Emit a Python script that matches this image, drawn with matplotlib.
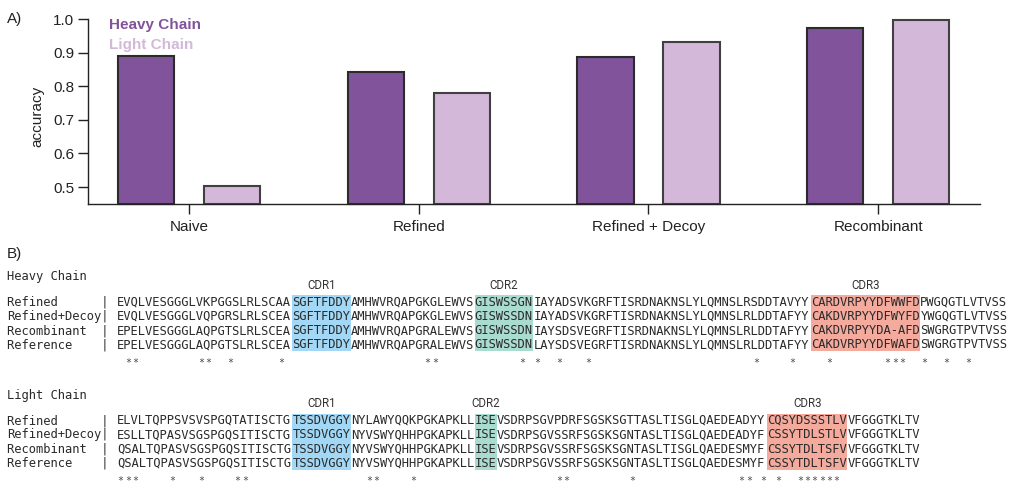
import matplotlib
matplotlib.use("Agg")
import matplotlib.pyplot as plt
from matplotlib.patches import Rectangle

# ---------------- Panel A data ----------------
categories = ["Naive", "Refined", "Refined + Decoy", "Recombinant"]
series_names = ["Heavy Chain", "Light Chain"]
heavy_acc = [0.889, 0.843, 0.888, 0.973]
light_acc = [0.503, 0.779, 0.932, 0.996]
y_ticks = [0.5, 0.6, 0.7, 0.8, 0.9, 1.0]

# ---------------- Panel B data ----------------
row_labels = ["Refined", "Refined+Decoy", "Recombinant", "Reference"]
heavy_seqs = [
    "EVQLVESGGGLVKPGGSLRLSCAASGFTFDDYAMHWVRQAPGKGLEWVSGISWSSGNIAYADSVKGRFTISRDNAKNSLYLQMNSLRSDDTAVYYCARDVRPYYDFWWFDPWGQGTLVTVSS",
    "EVQLVESGGGLVQPGRSLRLSCEASGFTFDDYAMHWVRQAPGKGLEWVSGISWSSDNIAYADSVKGRFTISRDNAKNSLYLQMNSLRLDDTAFYYCAKDVRPYYDFWYFDYWGQGTLVTVSS",
    "EPELVESGGGLAQPGTSLRLSCEASGFTFDDYAMHWVRQAPGRALEWVSGISWSSDNIAYSDSVEGRFTISRDNAKNSLYLQMNSLRLDDTAFYYCAKDVRPYYDA-AFDSWGRGTPVTVSS",
    "EPELVESGGGLAQPGTSLRLSCEASGFTFDDYAMHWVRQAPGRALEWVSGISWSSDNLAYSDSVEGRFTISRDNAKNSLYLQMNSLRLDDTAFYYCAKDVRPYYDFWAFDSWGRGTPVTVSS",
]
light_seqs = [
    "ELVLTQPPSVSVSPGQTATISCTGTSSDVGGYNYLAWYQQKPGKAPKLLISEVSDRPSGVPDRFSGSKSGTTASLTISGLQAEDEADYYCQSYDSSSTLVVFGGGTKLTV",
    "ESLLTQPASVSGSPGQSITISCTGTSSDVGGYNYVSWYQHHPGKAPKLLISEVSDRPSGVSSRFSGSKSGNTASLTISGLQAEDEADYFCSSYTDLSTLVVFGGGTKLTV",
    "QSALTQPASVSGSPGQSITISCTGTSSDVGGYNYVSWYQHHPGKAPKLLISEVSDRPSGVSSRFSGSKSGNTASLTISGLQAEDESMYFCSSYTDLTSFVVFGGGTKLTV",
    "QSALTQPASVSGSPGQSITISCTGTSSDVGGYNYVSWYQHHPGKAPKLLISEVSDRPSGVSSRFSGSKSGNTASLTISGLQAEDESMYFCSSYTDLTSFVVFGGGTKLTV",
]
cdr_names = ["CDR1", "CDR2", "CDR3"]
heavy_cdr_spans = [(25, 32), (50, 57), (96, 110)]
light_cdr_spans = [(25, 32), (50, 52), (90, 100)]
heavy_star_cols = [2, 3, 12, 13, 16, 23, 43, 44, 56, 58, 61, 65, 88, 93, 98,
                   106, 107, 108, 111, 114, 117]
light_star_cols = [1, 2, 3, 8, 12, 17, 18, 35, 36, 41, 61, 62, 71, 86, 87, 89,
                   91, 94, 95, 96, 97, 98, 99]

# ---------------- style ----------------
plt.rcParams['font.family'] = ['Liberation Sans', 'DejaVu Sans']
heavy_color = "#80539a"
light_color = "#d4b8d9"
cdr_colors = ["#a2d8f5", "#a9dbd0", "#f4aa9c"]
text_dark = "#222222"
seq_color = "#2a2a2a"

W, H = 1011, 486
fig = plt.figure(figsize=(W / 100, H / 100), dpi=100)

# Full-figure overlay axes in pixel coordinates (panel B + panel letters)
axb = fig.add_axes([0, 0, 1, 1])
axb.set_xlim(0, W)
axb.set_ylim(H, 0)
axb.axis("off")

# ---------------- Panel A ----------------
ax_left, ax_right, ax_top, ax_bot = 88, 980, 19, 203.8
ax = fig.add_axes([ax_left / W, 1 - ax_bot / H, (ax_right - ax_left) / W, (ax_bot - ax_top) / H])
y_lo, y_hi = 0.45, 1.0
x = list(range(len(categories)))
off, bw = 0.1875, 0.245
ax.bar([i - off for i in x], [v - y_lo for v in heavy_acc], bottom=y_lo, width=bw,
       color=heavy_color, edgecolor="#2b2b2b", linewidth=1.5, clip_on=False, zorder=3)
ax.bar([i + off for i in x], [v - y_lo for v in light_acc], bottom=y_lo, width=bw,
       color=light_color, edgecolor="#404040", linewidth=1.5, clip_on=False, zorder=3)
ax.set_ylim(y_lo, y_hi)
ax.set_xlim(-0.44, -0.44 + (ax_right - ax_left) / 229.7)
ax.set_yticks(y_ticks)
ax.set_yticklabels([f"{v:.1f}" for v in y_ticks])
ax.set_xticks(x)
ax.set_xticklabels(categories)
ax.spines["top"].set_visible(False)
ax.spines["right"].set_visible(False)
for s in ("left", "bottom"):
    ax.spines[s].set_linewidth(1.0)
    ax.spines[s].set_color(text_dark)
    ax.spines[s].set_zorder(4)
ax.tick_params(axis="both", length=7.5, width=1.0, colors=text_dark, labelsize=11)
ax.tick_params(axis="y", pad=2.5)
ax.tick_params(axis="x", pad=4)
ax.set_ylabel("accuracy", fontsize=11, color=text_dark)
ax.yaxis.set_label_coords(-0.049, 0.475)
ax.text(0.0235, 0.965, series_names[0], transform=ax.transAxes, fontsize=11,
        fontweight="bold", color=heavy_color, va="center", ha="left")
ax.text(0.0235, 0.86, series_names[1], transform=ax.transAxes, fontsize=11,
        fontweight="bold", color=light_color, va="center", ha="left")

axb.text(7, 19, "A)", fontsize=11, color=text_dark, va="center", ha="left")
axb.text(7, 254, "B)", fontsize=11, color=text_dark, va="center", ha="left")

# ---------------- Panel B ----------------
mono = "DejaVu Sans Mono"
mono_pt = 8.73          # renders with ~7.25 px advance
char_w = 7.303          # column pitch of the reference alignment
seq_col0 = 15           # sequence starts after "label(13)| "
seq_x = 117.0
x0 = seq_x - seq_col0 * char_w
row_gap = 14.3
star_pt = 7.2


def draw_block(title, title_y, cdr_y, top_y, seqs, spans, stars, star_y):
    axb.text(x0, title_y, title, family=mono, fontsize=mono_pt, color=seq_color,
             va="center", ha="left")
    rows_y = [top_y + k * row_gap for k in range(len(seqs))]
    for name, (a, b), col in zip(cdr_names, spans, cdr_colors):
        left = seq_x + (a - 1) * char_w
        right = seq_x + b * char_w
        axb.add_patch(Rectangle((left, rows_y[0] - 6.8), right - left,
                                rows_y[-1] - rows_y[0] + 13.4, facecolor=col,
                                edgecolor="none", zorder=1))
        axb.text((left + right) / 2, cdr_y, name, family=["Roboto", "DejaVu Sans"],
                 fontsize=8.3, color="#333333", ha="center", va="center")
    # segment boundaries (0-based) at CDR edges keep columns aligned to the pitch
    cuts = [0]
    for a, b in spans:
        cuts += [a - 1, b]
    for lab, seq, yy in zip(row_labels, seqs, rows_y):
        axb.text(x0, yy, f"{lab:<13}|", family=mono, fontsize=mono_pt,
                 color=seq_color, va="center", ha="left", zorder=2)
        bounds = cuts + [len(seq)]
        for s, e in zip(bounds[:-1], bounds[1:]):
            if e > s:
                axb.text(seq_x + s * char_w, yy, seq[s:e], family=mono,
                         fontsize=mono_pt, color=seq_color, va="center",
                         ha="left", zorder=2)
    for c in stars:
        axb.text(seq_x + (c - 0.5) * char_w, star_y, "*", family=mono,
                 fontsize=star_pt, color="#444444", va="baseline", ha="center")


draw_block("Heavy Chain", 276.7, 285, 302, heavy_seqs, heavy_cdr_spans, heavy_star_cols, 366.0)
draw_block("Light Chain", 395, 403.5, 420.5, light_seqs, light_cdr_spans, light_star_cols, 484.0)

fig.savefig("out.png", dpi=100)
